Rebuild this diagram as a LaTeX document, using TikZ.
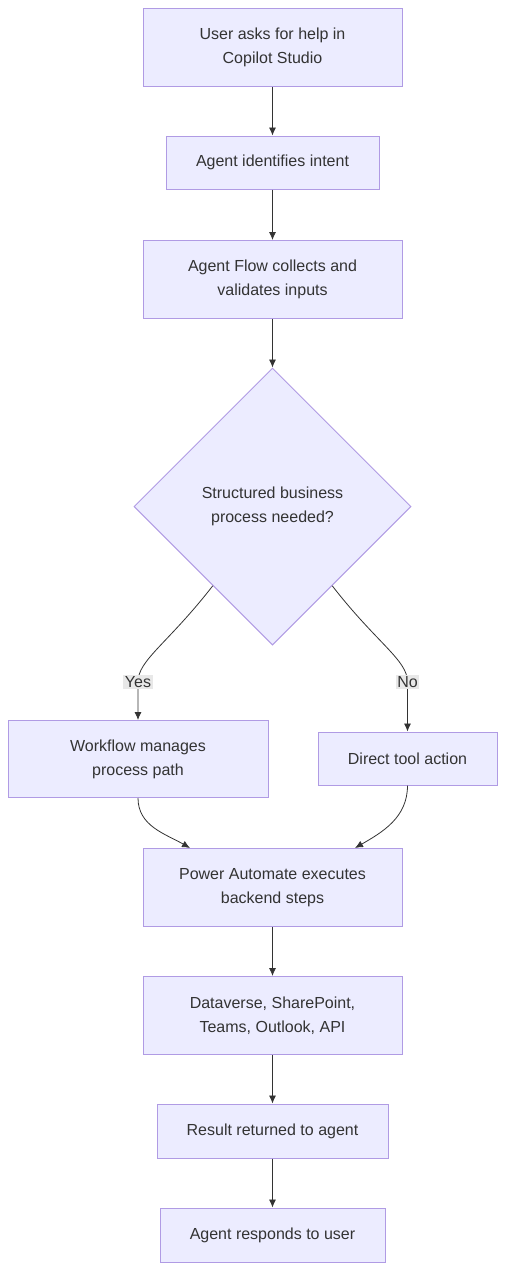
\documentclass[tikz,border=0pt]{standalone}
\usepackage{fontspec}
\setmainfont{Liberation Sans}
\usetikzlibrary{shapes.geometric,arrows.meta}
\definecolor{boxfill}{HTML}{ECECFF}
\definecolor{boxline}{HTML}{B09BE4}
\definecolor{ink}{HTML}{333333}
\definecolor{tagfill}{HTML}{E8E8E8}
\tikzset{
  stepbox/.style={draw=boxline, fill=boxfill, line width=1pt, text=ink, align=center,
    inner sep=0pt, font=\fontsize{16}{24}\selectfont},
  choice/.style={stepbox, diamond, aspect=1, minimum width=277pt, minimum height=277pt},
  flow/.style={-{Latex[length=8pt,width=7pt]}, draw=ink, line width=0.8pt},
  tag/.style={fill=tagfill, text=ink, inner sep=1.5pt, font=\fontsize{16}{24}\selectfont}
}

\begin{document}
\begin{tikzpicture}[x=1pt, y=1pt] % copilot flow
\pgfmathsetmacro\mx{272.5}
\pgfmathsetmacro\bw{259}
\pgfmathsetmacro\bh{78}
\useasboundingbox (0,0) rectangle (505,-1270);

\node[stepbox, minimum width=\bw pt, minimum height=\bh pt] (ask) at (\mx,-47.5) {User asks for help in\\ Copilot Studio};
\node[stepbox, minimum width=213pt, minimum height=53pt] (intent) at (\mx,-162.5) {Agent identifies intent};
\node[stepbox, minimum width=\bw pt, minimum height=\bh pt] (collect) at (\mx,-279.5) {Agent Flow collects and\\ validates inputs};
\node[choice] (dec) at (\mx,-506.5) {Structured business\\ process needed?};
\node[stepbox, minimum width=260pt, minimum height=77pt] (wf) at (138,-759) {Workflow manages\\ process path};
\node[stepbox, minimum width=179pt, minimum height=53pt] (tool) at (407.5,-758.5) {Direct tool action};
\node[stepbox, minimum width=\bw pt, minimum height=\bh pt] (power) at (\mx,-887.5) {Power Automate executes\\ backend steps};
\node[stepbox, minimum width=\bw pt, minimum height=\bh pt] (data) at (\mx,-1015.5) {Dataverse, SharePoint,\\ Teams, Outlook, API};
\node[stepbox, minimum width=231pt, minimum height=54pt] (result) at (\mx,-1131) {Result returned to agent};
\node[stepbox, minimum width=225pt, minimum height=54pt] (reply) at (\mx,-1235) {Agent responds to user};
\coordinate (ybend) at (138,-682);
\coordinate (nbend) at (407.5,-682);

\foreach \a/\b in {ask/intent, intent/collect, collect/dec, power/data, data/result, result/reply}
{
    \draw[flow] (\a) -- (\b);
}

\draw[flow] (dec.233) .. controls +(-45,-58) and +(0,22) .. (ybend) -- (wf.north);
\draw[flow] (dec.307) .. controls +(45,-58) and +(0,22) .. (nbend) -- (tool.north);
\node[tag] (yes) at (ybend) {Yes};
\node[tag] (no) at (nbend) {No};
\draw[flow] (wf.south) to[out=-90, in=150] ([xshift=-82.5pt]power.north);
\draw[flow] (tool.south) to[out=-90, in=30] ([xshift=82.5pt]power.north);
\end{tikzpicture}
\end{document}
